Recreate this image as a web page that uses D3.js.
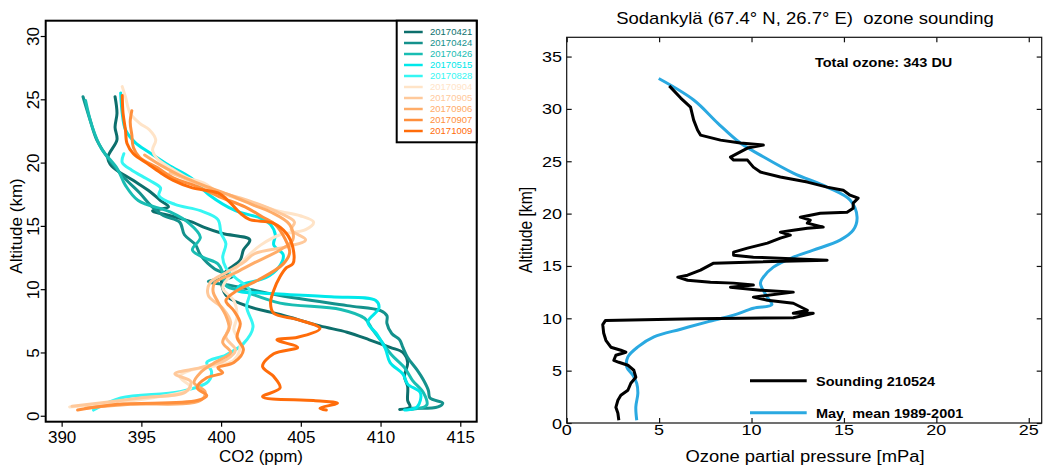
<!DOCTYPE html>
<html>
<head>
<meta charset="utf-8">
<script src="https://cdn.jsdelivr.net/npm/d3@7"></script>
<style>
  body { margin: 0; background: #fff; }
  svg { display: block; font-family: "Liberation Sans", Arial, Helvetica, sans-serif; }
</style>
</head>
<body>
<svg id="chart" width="1049" height="470"></svg>
<script>
// ---- left panel: CO2 profiles, [ppm, km] ----
const co2Dates = ["20170421", "20170424", "20170426", "20170515", "20170828",
  "20170904", "20170905", "20170906", "20170907", "20171009"];
const co2Colors = ["#0d6f6c", "#14918c", "#19bdb3", "#00e8ea", "#36f6f3",
  "#ffe4c8", "#ffc99b", "#ffac68", "#ff8f3c", "#ff6c0a"];

const co2_20170421 = [[393.35,25.2],[393.47,23.9],[393.35,22.8],[393.47,21.8],[392.9,20.4],[393.15,19.7],
  [394.48,18.6],[395.55,17.7],[396.2,17.0],[396.7,16.5],[395.7,16.2],[396.8,15.8],[398.2,15.3],[398.9,14.9],
  [400.1,14.4],[401.8,13.9],[401.4,13.1],[401.2,12.3],[400.6,11.7],[400.1,11.1],[400.05,10.3],[400.4,9.4],
  [401.8,8.6],[403.7,8.0],[406.2,7.1],[407.9,6.6],[409.3,6.0],[410.6,5.4],[411.4,5.0],[411.7,4.2],[411.5,3.1],
  [411.7,2.3],[411.7,1.2],[411.85,0.7],[411.2,0.5]];
const co2_20170424 = [[391.34,25.2],[391.8,23.3],[392.2,21.8],[393.0,20.2],[394.0,18.7],[394.9,17.6],
  [395.6,16.6],[396.4,15.8],[397.4,15.3],[397.7,14.3],[398.4,13.5],[398.7,12.7],[399.6,11.6],[400.7,11.0],
  [399.2,10.6],[400.6,10.3],[403.7,9.5],[407.9,8.7],[410.0,8.3],[410.4,7.9],[410.4,7.3],[410.7,6.5],
  [411.2,6.0],[411.4,5.4],[411.7,4.6],[412.3,3.6],[412.7,2.8],[413.0,2.0],[413.1,1.4],[413.9,1.0],
  [413.6,0.7],[412.0,0.6]];
const co2_20170426 = [[391.5,24.9],[391.9,22.9],[392.5,21.1],[393.5,19.5],[394.0,18.2],[394.8,17.0],
  [396.8,16.1],[398.0,15.2],[398.7,14.1],[398.2,13.1],[398.9,12.5],[399.8,12.0],[400.1,11.3],[400.3,10.3],
  [401.5,9.8],[403.7,8.9],[407.5,8.4],[409.0,7.7],[409.5,6.8],[410.1,5.8],[410.7,4.8],[411.5,3.8],
  [412.0,2.8],[412.7,1.8],[412.9,0.85],[411.9,0.5]];
const co2_20170515 = [[393.7,25.5],[393.8,23.9],[394.0,22.6],[394.6,21.6],[395.5,20.8],[396.7,19.8],
  [398.1,18.8],[399.3,17.4],[400.9,16.2],[402.5,15.6],[403.1,15.1],[403.4,14.3],[403.3,13.5],[403.9,12.7],
  [403.6,11.7],[402.8,10.9],[401.2,10.3],[401.0,9.9],[402.5,9.7],[406.9,9.4],[409.7,9.1],[409.9,8.5],
  [409.2,7.4],[409.8,6.4],[410.3,5.3],[410.6,4.2],[411.4,3.3],[411.7,2.5],[412.5,1.8],[412.3,0.7],[411.5,0.45]];
const co2_20170828 = [[393.9,20.7],[393.8,20.0],[394.4,19.4],[395.5,18.6],[396.2,18.0],[396.1,17.4],
  [397.1,16.7],[398.7,16.2],[399.8,15.5],[400.0,14.4],[400.3,13.6],[400.1,12.5],[400.3,11.7],[400.9,10.9],
  [401.8,9.9],[401.6,8.6],[402.0,7.0],[401.4,5.7],[400.3,4.8],[399.1,4.2],[399.4,3.5],[399.2,2.7],
  [397.4,1.9],[393.7,1.4],[392.0,0.45]];
const co2_20170904 = [[393.8,26.0],[394.0,25.2],[394.3,23.9],[394.9,23.1],[395.5,22.6],[395.9,21.8],
  [395.7,21.0],[396.0,20.3],[396.8,19.6],[397.9,18.8],[398.9,18.4],[399.9,17.6],[401.8,16.9],[403.5,16.2],
  [404.96,15.8],[405.8,15.3],[405.3,14.7],[403.7,14.3],[402.5,13.5],[401.5,12.4],[400.6,11.1],[400.1,10.1],
  [400.8,9.1],[401.0,7.8],[400.8,6.8],[401.2,5.7],[400.8,4.4],[398.1,3.6],[397.4,3.1],[398.1,2.2],
  [395.6,1.4],[390.5,0.7]];
const co2_20170905 = [[396.8,19.2],[398.0,18.6],[399.6,17.8],[401.2,17.2],[402.6,16.6],[403.7,16.0],
  [404.6,15.3],[404.4,14.7],[405.3,13.9],[404.3,13.4],[402.1,12.8],[401.4,12.1],[400.3,11.3],[399.3,10.5],
  [399.2,9.5],[400.1,8.5],[400.6,7.4],[400.3,6.2],[400.9,5.2],[400.3,4.4],[398.7,3.8],[397.1,3.3],
  [398.1,2.7],[397.8,1.9],[394.9,1.4],[390.65,0.75]];
const co2_20170906 = [[395.2,20.6],[396.2,19.8],[397.4,19.0],[398.9,18.2],[400.6,17.4],[402.1,16.6],
  [403.1,16.1],[404.3,15.1],[404.5,13.9],[403.7,13.1],[402.1,12.1],[400.9,11.3],[399.6,10.5],[399.5,9.8],
  [399.8,9.0],[400.3,7.9],[400.5,6.9],[400.1,5.8],[400.6,5.0],[399.6,4.2],[398.7,3.4],[398.3,2.6],
  [399.0,1.9],[398.7,1.2],[394.3,0.9],[391.5,0.6]];
const co2_20170907 = [[394.4,24.1],[394.3,23.2],[394.4,22.2],[394.5,21.2],[394.9,20.4],[396.0,19.6],
  [397.0,18.8],[398.5,18.1],[399.9,17.3],[401.5,16.5],[402.6,15.7],[403.4,15.1],[404.0,14.0],[404.3,12.9],
  [403.9,12.0],[402.3,10.7],[401.0,9.9],[400.3,9.1],[400.8,8.3],[401.2,7.3],[401.0,6.2],[401.4,5.2],
  [400.8,4.2],[399.8,3.8],[400.1,3.4],[399.1,3.0],[398.5,2.2],[399.1,1.6],[398.5,1.2],[393.5,0.9],[391.0,0.45]];
const co2_20171009 = [[393.8,25.3],[393.85,23.9],[394.0,22.6],[394.1,21.5],[394.5,20.7],[395.4,19.9],
  [396.2,19.2],[397.0,18.6],[398.2,18.0],[399.8,17.6],[400.6,16.8],[401.2,16.0],[401.8,15.5],[403.3,15.2],
  [404.1,14.4],[404.5,13.3],[404.5,12.0],[404.1,11.7],[403.7,11.0],[403.3,9.9],[403.1,8.9],[403.3,8.1],
  [404.8,7.6],[406.2,6.9],[404.8,6.2],[403.5,6.0],[404.8,5.4],[403.3,4.9],[402.6,3.9],[403.3,3.1],
  [403.7,2.2],[402.6,1.5],[405.8,1.2],[407.3,1.0],[406.2,0.6],[406.6,0.45]];

const co2Profiles = [co2_20170421, co2_20170424, co2_20170426, co2_20170515, co2_20170828,
  co2_20170904, co2_20170905, co2_20170906, co2_20170907, co2_20171009];
const co2Ticks = [390, 395, 400, 405, 410, 415];
const altTicksL = [0, 5, 10, 15, 20, 25, 30];

// ---- right panel: ozone sounding, [mPa, km] ----
const ozoneSounding = [[5.55,32.2],[6.17,31.04],[6.70,30.18],[6.87,28.93],[7.08,27.98],[7.24,27.50],
  [8.32,27.02],[9.40,26.74],[10.64,26.55],[9.78,26.26],[8.86,25.40],[9.03,25.11],[9.78,25.11],[10.10,24.44],
  [10.48,23.97],[11.56,23.49],[13.02,23.01],[14.09,22.53],[14.96,22.24],[15.33,21.76],[15.77,21.48],
  [15.50,21.00],[15.50,20.52],[15.17,20.14],[13.72,20.04],[12.64,19.66],[13.18,19.38],[13.02,19.09],
  [13.88,18.71],[13.02,18.61],[12.26,18.42],[11.56,18.23],[12.10,17.94],[11.56,17.66],[10.86,17.18],
  [9.78,16.70],[9.03,16.32],[9.03,16.03],[10.10,15.84],[14.09,15.55],[9.78,15.36],[7.95,15.27],[7.24,14.60],
  [6.54,14.12],[6.01,13.93],[6.54,13.64],[7.78,13.45],[9.03,13.36],[10.10,13.17],[8.86,12.97],[10.48,12.69],
  [12.26,12.50],[10.10,12.02],[10.86,11.73],[12.26,11.44],[13.02,10.77],[12.26,10.49],[13.34,10.49],
  [12.26,10.05],[7.0,9.95],[2.1,9.8],[1.95,9.4],[2.0,8.6],[2.12,7.90],[2.39,7.24],[2.93,6.95],[3.20,6.76],
  [2.66,6.47],[2.55,5.99],[2.82,5.80],[3.31,5.52],[3.63,5.04],[3.74,4.37],[3.47,3.80],[3.31,3.13],
  [2.93,2.65],[2.77,2.17],[2.66,1.50],[2.77,0.93],[2.82,0.26]];
const ozoneMayMean = [[4.98,32.9],[6.87,30.85],[8.17,28.65],[9.40,26.74],[10.48,25.59],[12.26,23.87],
  [14.09,22.53],[15.33,21.29],[15.71,19.67],[15.50,18.42],[14.79,17.47],[13.34,16.51],[12.26,15.84],
  [11.18,14.89],[10.64,13.93],[10.48,13.36],[10.84,12.05],[11.1,11.3],[10.1,10.96],[9.03,10.3],[7.62,9.66],
  [6.17,8.96],[4.72,8.22],[3.85,7.27],[3.31,6.31],[3.25,5.35],[3.58,4.56],[3.79,3.79],[3.85,2.84],
  [3.74,1.53],[3.79,0.26]];
const ozoneTicks = [0, 5, 10, 15, 20, 25];
const altTicksR = [0, 5, 10, 15, 20, 25, 30, 35];
const ozoneLegend = ["Sounding 210524", "May  mean 1989-2001"];

const svg = d3.select("#chart");

// ================= left panel =================
const xL = d3.scaleLinear().domain([389, 416.03]).range([45.7, 476.7]);
const yL = d3.scaleLinear().domain([-0.47, 31.21]).range([421.7, 20.7]);
const left = svg.append("g").attr("class", "co2");

const co2Line = d3.line()
  .x((d) => xL(d[0]))
  .y((d) => yL(d[1]))
  .curve(d3.curveCatmullRom.alpha(0.5));

left.selectAll("path.profile")
  .data(co2Profiles)
  .join("path")
  .attr("class", "profile")
  .attr("d", (d) => co2Line(d))
  .attr("fill", "none")
  .attr("stroke", (d, i) => co2Colors[i])
  .attr("stroke-width", 3)
  .attr("stroke-linejoin", "round")
  .attr("stroke-linecap", "round");

const xAxisL = left.append("g")
  .attr("transform", `translate(0,${yL.range()[0]})`)
  .call(d3.axisBottom(xL).tickValues(co2Ticks).tickSize(5).tickSizeOuter(0));
xAxisL.select(".domain").remove();
xAxisL.attr("font-family", null).attr("font-size", null);
xAxisL.selectAll("line").attr("stroke", "#000").attr("stroke-width", 1.2);
xAxisL.selectAll("text").attr("font-size", 17).attr("fill", "#000").attr("y", 9);

const yAxisL = left.append("g")
  .attr("transform", `translate(${xL.range()[0]},0)`)
  .call(d3.axisLeft(yL).tickValues(altTicksL).tickSize(5).tickSizeOuter(0));
yAxisL.select(".domain").remove();
yAxisL.attr("font-family", null).attr("font-size", null);
yAxisL.selectAll("line").attr("stroke", "#000").attr("stroke-width", 1.2);
yAxisL.selectAll("text")
  .attr("font-size", 17)
  .attr("fill", "#000")
  .attr("transform", "rotate(-90)")
  .attr("text-anchor", "middle")
  .attr("x", 0)
  .attr("y", -7)
  .attr("dy", 0);

left.append("rect")
  .attr("x", xL.range()[0]).attr("y", yL.range()[1])
  .attr("width", xL.range()[1] - xL.range()[0])
  .attr("height", yL.range()[0] - yL.range()[1])
  .attr("fill", "none").attr("stroke", "#000").attr("stroke-width", 2);

left.append("text")
  .attr("transform", "translate(22,226) rotate(-90)")
  .attr("text-anchor", "middle").attr("font-size", 17)
  .text("Altitude (km)");
left.append("text")
  .attr("x", 261).attr("y", 462)
  .attr("text-anchor", "middle").attr("font-size", 17)
  .text("CO2 (ppm)");

// legend
const legendL = left.append("g").attr("class", "legend");
legendL.append("rect")
  .attr("x", 396.7).attr("y", 20.7).attr("width", 80).attr("height", 121.6)
  .attr("fill", "#fff").attr("stroke", "#000").attr("stroke-width", 2);
const legRows = legendL.selectAll("g.row")
  .data(co2Dates)
  .join("g")
  .attr("class", "row")
  .attr("transform", (d, i) => `translate(0,${32 + i * 11})`);
legRows.append("line")
  .attr("x1", 404).attr("x2", 422.7)
  .attr("stroke", (d, i) => co2Colors[i]).attr("stroke-width", 2.5);
legRows.append("text")
  .attr("x", 430).attr("y", 3.4)
  .attr("font-size", 9.5)
  .attr("fill", (d, i) => co2Colors[i])
  .text((d) => d);

// ================= right panel =================
const xR = d3.scaleLinear().domain([0, 25.7]).range([566.7, 1041.7]);
const yR = d3.scaleLinear().domain([0, 36.84]).range([423, 37.3]);
const right = svg.append("g").attr("class", "ozone");
const squash = 0.85;

const ozLine = d3.line().x((d) => xR(d[0])).y((d) => yR(d[1]));

right.append("path")
  .attr("d", ozLine.curve(d3.curveCatmullRom.alpha(0.5))(ozoneMayMean))
  .attr("fill", "none").attr("stroke", "#2aa9e1").attr("stroke-width", 3);
right.append("path")
  .attr("d", ozLine.curve(d3.curveLinear)(ozoneSounding))
  .attr("fill", "none").attr("stroke", "#000").attr("stroke-width", 3)
  .attr("stroke-linejoin", "round");

// inward ticks on all four sides
const tickSides = [
  [d3.axisBottom(xR).tickValues(ozoneTicks), `translate(0,${yR.range()[0]})`],
  [d3.axisTop(xR).tickValues(ozoneTicks), `translate(0,${yR.range()[1]})`],
  [d3.axisLeft(yR).tickValues(altTicksR), `translate(${xR.range()[0]},0)`],
  [d3.axisRight(yR).tickValues(altTicksR), `translate(${xR.range()[1]},0)`]
];
tickSides.forEach(([axis, tf]) => {
  const g = right.append("g").attr("transform", tf).call(axis.tickSize(-5).tickSizeOuter(0));
  g.select(".domain").remove();
  g.selectAll("text").remove();
  g.selectAll("line").attr("stroke", "#111").attr("stroke-width", 1.2);
});

right.append("rect")
  .attr("x", xR.range()[0]).attr("y", yR.range()[1])
  .attr("width", xR.range()[1] - xR.range()[0])
  .attr("height", yR.range()[0] - yR.range()[1])
  .attr("fill", "none").attr("stroke", "#111").attr("stroke-width", 1.2);

right.selectAll("text.xt")
  .data(ozoneTicks)
  .join("text")
  .attr("class", "xt")
  .attr("transform", (d) => `translate(${xR(d)},434.5) scale(1,${squash})`)
  .attr("text-anchor", "middle").attr("font-size", 18)
  .text((d) => d);
right.selectAll("text.yt")
  .data(altTicksR)
  .join("text")
  .attr("class", "yt")
  .attr("transform", (d) => `translate(562,${yR(d)}) scale(1,${squash})`)
  .attr("dy", "0.36em")
  .attr("text-anchor", "end").attr("font-size", 18)
  .text((d) => d);

right.append("text")
  .attr("transform", `translate(805,24) scale(1,${squash})`)
  .attr("text-anchor", "middle").attr("font-size", 18.5)
  .style("white-space", "pre")
  .text("Sodankylä (67.4° N, 26.7° E)  ozone sounding");
right.append("text")
  .attr("transform", `translate(805,462) scale(1,${squash})`)
  .attr("text-anchor", "middle").attr("font-size", 18.4)
  .text("Ozone partial pressure [mPa]");
right.append("text")
  .attr("transform", "translate(532,230) rotate(-90) scale(0.87,1)")
  .attr("text-anchor", "middle").attr("font-size", 18)
  .text("Altitude [km]");
right.append("text")
  .attr("transform", `translate(815,66.5) scale(1,${squash})`)
  .attr("font-size", 14.5).attr("font-weight", "bold")
  .text("Total ozone: 343 DU");

const legendR = right.selectAll("g.leg")
  .data(ozoneLegend)
  .join("g")
  .attr("class", "leg")
  .attr("transform", (d, i) => `translate(0,${380.7 + i * 32})`);
legendR.append("line")
  .attr("x1", 750).attr("x2", 806.7)
  .attr("stroke", (d, i) => i === 0 ? "#000" : "#2aa9e1")
  .attr("stroke-width", 3);
legendR.append("text")
  .attr("transform", `translate(816,4.8) scale(1,${squash})`)
  .attr("font-size", 14.5).attr("font-weight", "bold")
  .style("white-space", "pre")
  .text((d) => d);
</script>
</body>
</html>
